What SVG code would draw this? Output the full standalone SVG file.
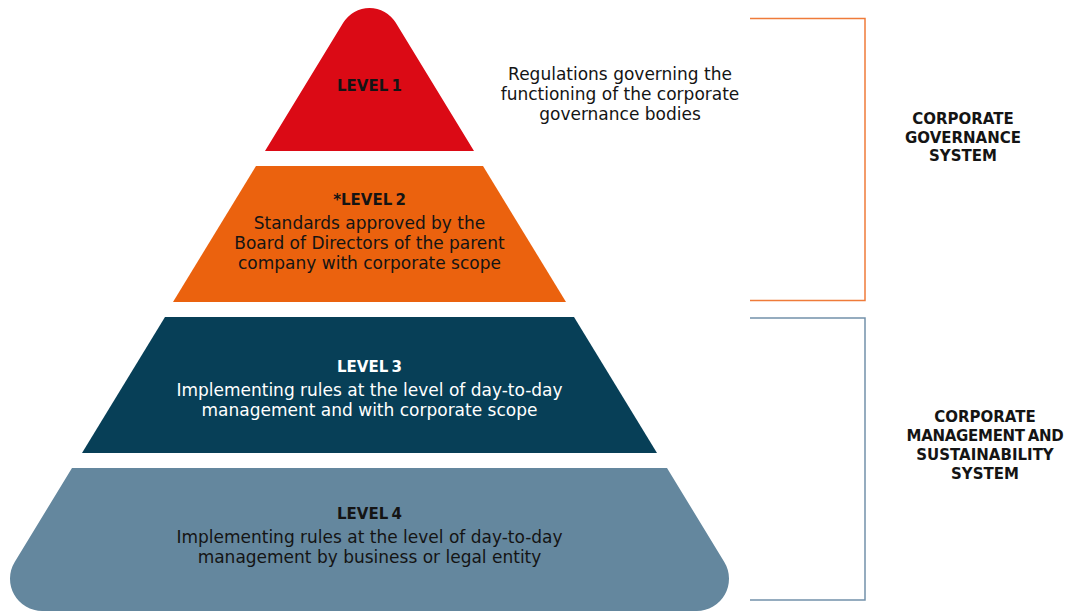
<svg xmlns="http://www.w3.org/2000/svg" width="1066" height="612" viewBox="0 0 1066 612">
<style>
.head{font-family:"DejaVu Sans",sans-serif;font-weight:bold;font-size:15px;text-anchor:middle;word-spacing:-2px}
.body{font-family:"DejaVu Sans",sans-serif;font-size:17px;text-anchor:middle}
.dark{fill:#141414}
.light{fill:#ffffff}
.bracket{fill:none;stroke-width:1.5}
</style>
<rect width="1066" height="612" fill="#ffffff"/>
<g id="level1">
<path d="M265,151 L343.2,22.8 A30.8,30.8 0 0 1 395.8,22.8 L474,151 Z" fill="#DB0A15"/>
<text class="head dark" x="369.5" y="90.5">LEVEL 1</text>
</g>
<g id="level2">
<path d="M256,166 L483,166 L566,302 L173,302 Z" fill="#EB620E"/>
<text class="head dark" x="369.5" y="205">*LEVEL 2</text>
<text class="body dark" x="369.5" y="229">Standards approved by the</text>
<text class="body dark" x="369.5" y="249">Board of Directors of the parent</text>
<text class="body dark" x="369.5" y="268.5">company with corporate scope</text>
</g>
<g id="level3">
<path d="M165,317 L574,317 L657,453 L82,453 Z" fill="#073F57"/>
<text class="head light" x="369.5" y="371.5">LEVEL 3</text>
<text class="body light" x="369.5" y="396">Implementing rules at the level of day-to-day</text>
<text class="body light" x="369.5" y="416">management and with corporate scope</text>
</g>
<g id="level4">
<path d="M72,468 L667,468 L724.28,561.96 A32.25,32.25 0 0 1 696.75,611 L42.25,611 A32.25,32.25 0 0 1 14.72,561.96 Z" fill="#64879E"/>
<text class="head dark" x="369.5" y="519">LEVEL 4</text>
<text class="body dark" x="369.5" y="543">Implementing rules at the level of day-to-day</text>
<text class="body dark" x="369.5" y="563">management by business or legal entity</text>
</g>
<g id="level1-note">
<text class="body dark" x="620" y="80">Regulations governing the</text>
<text class="body dark" x="620" y="100">functioning of the corporate</text>
<text class="body dark" x="620" y="119.5">governance bodies</text>
</g>
<g id="connectors">
<path class="bracket" d="M750,18.5 H865 V300.5 H750" stroke="#EF7B3A"/>
<path class="bracket" d="M750,318 H865 V600 H750" stroke="#7391AB"/>
</g>
<g id="governance-system">
<text class="head dark" x="963" y="124">CORPORATE</text>
<text class="head dark" x="963" y="142.5">GOVERNANCE</text>
<text class="head dark" x="963" y="161">SYSTEM</text>
</g>
<g id="management-system">
<text class="head dark" x="985" y="421.5">CORPORATE</text>
<text class="head dark" x="985" y="441" style="letter-spacing:-0.3px">MANAGEMENT AND</text>
<text class="head dark" x="985" y="460">SUSTAINABILITY</text>
<text class="head dark" x="985" y="478.5">SYSTEM</text>
</g>
</svg>
